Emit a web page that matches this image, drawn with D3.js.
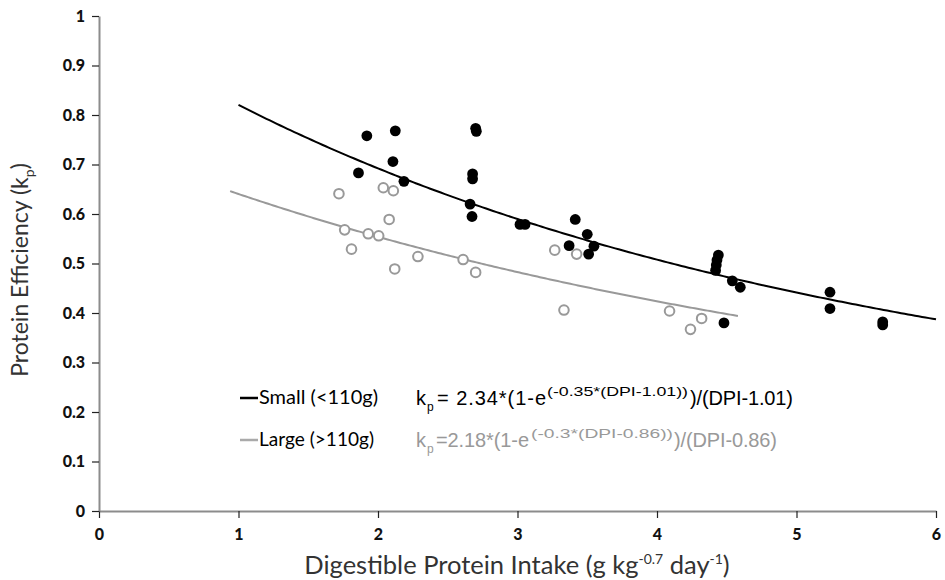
<!DOCTYPE html>
<html>
<head>
<meta charset="utf-8">
<script src="https://cdn.jsdelivr.net/npm/d3@7"></script>
<style>
  html, body { margin: 0; padding: 0; background: #fff; }
  svg { display: block; }
</style>
</head>
<body>
<svg id="chart" width="945" height="580"></svg>
<script>
// Small fish (<110 g): digestible protein intake vs protein efficiency
const smallDPI = [1.86, 1.92, 2.124, 2.107, 2.186, 2.70, 2.705, 2.678, 2.678, 2.66, 2.674,
  3.018, 3.054, 3.414, 3.37, 3.50, 3.548, 3.51, 4.44, 4.43, 4.425, 4.42, 4.54, 4.597, 4.48,
  5.24, 5.24, 5.618, 5.618];
const smallKp = [0.683, 0.758, 0.768, 0.706, 0.666, 0.773, 0.767, 0.681, 0.671, 0.620, 0.595,
  0.579, 0.579, 0.589, 0.536, 0.559, 0.535, 0.519, 0.517, 0.507, 0.497, 0.486, 0.465, 0.452, 0.380,
  0.442, 0.409, 0.382, 0.376];

// Large fish (>110 g)
const largeDPI = [1.72, 2.038, 2.11, 2.08, 1.761, 1.93, 2.005, 1.81, 2.286, 2.12, 2.61, 2.70,
  3.267, 3.424, 3.333, 4.09, 4.32, 4.24];
const largeKp = [0.641, 0.653, 0.647, 0.589, 0.568, 0.560, 0.556, 0.529, 0.514, 0.489, 0.508, 0.482,
  0.527, 0.519, 0.406, 0.404, 0.389, 0.367];

// Fitted models: kp = a*(1-exp(-b*(DPI-c)))/(DPI-c)
const smallFit = { a: 2.34, b: 0.35, c: 1.01, from: 1.0, to: 6.0 };
const largeFit = { a: 2.18, b: 0.3, c: 0.86, from: 0.94, to: 4.58 };

const xTicks = [0, 1, 2, 3, 4, 5, 6];
const yTicks = [0, 0.1, 0.2, 0.3, 0.4, 0.5, 0.6, 0.7, 0.8, 0.9, 1];

const svg = d3.select("#chart");
const x = d3.scaleLinear().domain([0, 6]).range([99, 936]);
const y = d3.scaleLinear().domain([0, 1]).range([511, 16]);

const axisColor = "#8c8c8c";
const labelFont = "Lato, 'Open Sans', sans-serif";
const eqFont = "'Liberation Sans', Arial, sans-serif";

// Axes
const xAxis = svg.append("g").attr("transform", "translate(0,511)")
  .call(d3.axisBottom(x).tickValues(xTicks).tickFormat(d3.format("d")).tickSize(7).tickSizeOuter(0));
const yAxis = svg.append("g").attr("transform", "translate(99,0)")
  .call(d3.axisLeft(y).tickValues(yTicks).tickFormat(d => d === 0 || d === 1 ? String(d) : d.toFixed(1)).tickSize(7).tickSizeOuter(0));

[xAxis, yAxis].forEach(g => {
  g.select(".domain").attr("stroke", axisColor).attr("stroke-width", 2);
  g.selectAll(".tick line").attr("stroke", "#222").attr("stroke-width", 1.2);
  g.selectAll(".tick text")
    .attr("fill", "#111")
    .attr("font-family", labelFont)
    .attr("font-weight", 900)
    .attr("font-size", 16);
});
xAxis.selectAll(".tick text").attr("dy", "1.2em");
yAxis.selectAll(".tick text").attr("x", -14);

// Axis titles
const xTitle = svg.append("text")
  .attr("x", 517).attr("y", 574)
  .attr("text-anchor", "middle")
  .attr("font-family", labelFont)
  .attr("font-size", 25.5)
  .attr("fill", "#333");
xTitle.append("tspan").text("Digestible Protein Intake (g kg");
xTitle.append("tspan").attr("font-size", 14).attr("dy", -10).text("-0.7");
xTitle.append("tspan").attr("dy", 10).text(" day");
xTitle.append("tspan").attr("font-size", 14).attr("dy", -10).text("-1");
xTitle.append("tspan").attr("dy", 10).text(")");

const yTitle = svg.append("text")
  .attr("transform", "translate(28,270) rotate(-90)")
  .attr("text-anchor", "middle")
  .attr("font-family", labelFont)
  .attr("font-size", 23)
  .attr("fill", "#333");
yTitle.append("tspan").text("Protein  Efficiency (k");
yTitle.append("tspan").attr("font-size", 14).attr("dy", 6).text("p");
yTitle.append("tspan").attr("dy", -6).text(")");

// Fitted curves
function fitCurve(f) {
  const pts = d3.range(0, 201).map(i => {
    const d = f.from + (f.to - f.from) * i / 200;
    const z = d - f.c;
    const k = Math.abs(z) < 1e-9 ? f.a * f.b : f.a * (1 - Math.exp(-f.b * z)) / z;
    return [d, k];
  });
  return d3.line().x(p => x(p[0])).y(p => y(p[1]))(pts);
}
svg.append("path").attr("d", fitCurve(largeFit))
  .attr("fill", "none").attr("stroke", "#999").attr("stroke-width", 2);
svg.append("path").attr("d", fitCurve(smallFit))
  .attr("fill", "none").attr("stroke", "#000").attr("stroke-width", 2);

// Observations
svg.append("g").selectAll("circle")
  .data(d3.zip(largeDPI, largeKp)).join("circle")
  .attr("cx", d => x(d[0])).attr("cy", d => y(d[1])).attr("r", 4.8)
  .attr("fill", "#fff").attr("stroke", "#999").attr("stroke-width", 2);
svg.append("g").selectAll("circle")
  .data(d3.zip(smallDPI, smallKp)).join("circle")
  .attr("cx", d => x(d[0])).attr("cy", d => y(d[1])).attr("r", 5.4)
  .attr("fill", "#000");

// Legend with model equations; each piece is laid out at a fixed x with a fixed length
const legend = [
  { label: "Small (<110g)", labelLen: 119, color: "#000", eqColor: "#000", y: 398,
    parts: [
      { t: "= 2.34*(1-e", x: 437, len: 109, size: 20, dy: 0, adj: "spacing" },
      { t: "(-0.35*(DPI-1.01))", x: 547, len: 141, size: 13.5, dy: -9, adj: "spacingAndGlyphs" },
      { t: ")/(DPI-1.01)", x: 690, len: 103, size: 20, dy: 0, adj: "spacing" }
    ] },
  { label: "Large (>110g)", labelLen: 115, color: "#aaa", eqColor: "#999", y: 440,
    parts: [
      { t: "=2.18*(1-e", x: 436, len: 93, size: 20, dy: 0, adj: "spacing" },
      { t: "(-0.3*(DPI-0.86))", x: 531, len: 142, size: 13.5, dy: -9, adj: "spacingAndGlyphs" },
      { t: ")/(DPI-0.86)", x: 674, len: 103, size: 20, dy: 0, adj: "spacing" }
    ] }
];
legend.forEach(l => {
  svg.append("line").attr("x1", 240).attr("x2", 258).attr("y1", l.y).attr("y2", l.y)
    .attr("stroke", l.color).attr("stroke-width", 2.5);
  svg.append("text").attr("x", 259).attr("y", l.y + 6)
    .attr("font-family", labelFont).attr("font-size", 19).attr("fill", "#000")
    .attr("textLength", l.labelLen).attr("lengthAdjust", "spacingAndGlyphs")
    .text(l.label);
  const base = l.y + 7;
  svg.append("text").attr("x", 416).attr("y", base)
    .attr("font-family", eqFont).attr("font-size", 20).attr("fill", l.eqColor).text("k");
  svg.append("text").attr("x", 427).attr("y", base + 6)
    .attr("font-family", eqFont).attr("font-size", 12).attr("fill", l.eqColor).text("p");
  l.parts.forEach(p => {
    svg.append("text").attr("x", p.x).attr("y", base + p.dy)
      .attr("font-family", eqFont).attr("font-size", p.size).attr("fill", l.eqColor)
      .attr("textLength", p.len).attr("lengthAdjust", p.adj)
      .text(p.t);
  });
});
</script>
</body>
</html>
